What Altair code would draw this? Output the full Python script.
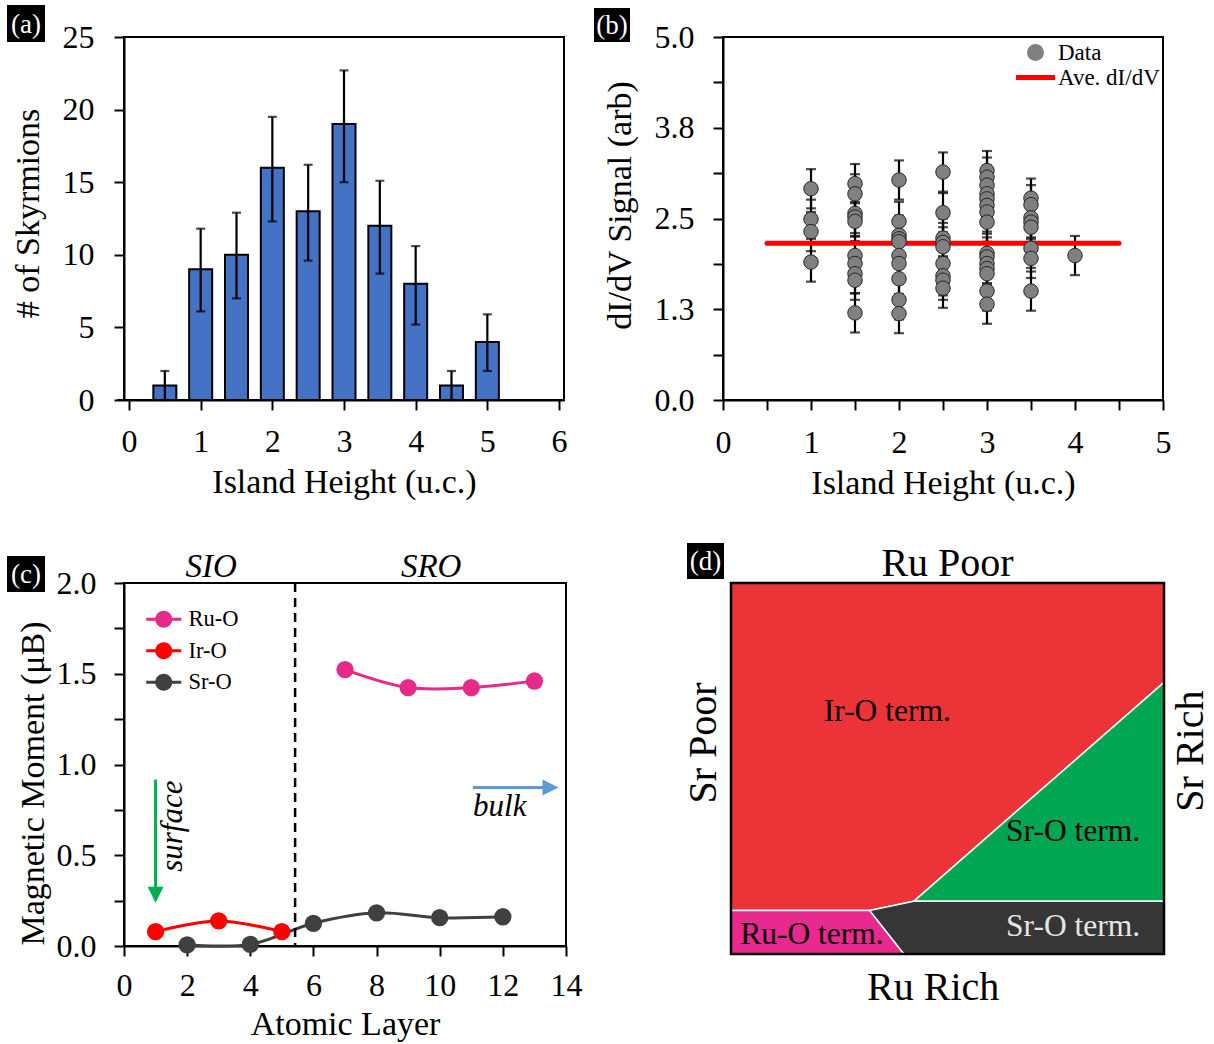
import altair as alt
import pandas as pd

FONT = "Liberation Serif"

# ---------------- (a) histogram ----------------
a_height = [0, 0.5, 1, 1.5, 2, 2.5, 3, 3.5, 4, 4.5, 5, 5.5]
a_count = [0, 1, 9, 10, 16, 13, 19, 12, 8, 1, 4, 0]
a_err_low = [None, 0.0, 6.1, 7.0, 12.3, 9.6, 15.0, 8.7, 5.2, 0.0, 2.0, None]
a_err_high = [None, 2.0, 11.8, 12.9, 19.5, 16.2, 22.7, 15.1, 10.6, 2.0, 5.9, None]

# ---------------- (b) dI/dV scatter ----------------
b_heights = [1.0, 1.5, 2.0, 2.5, 3.0, 3.5, 4.0]
b_h1_0 = [2.91, 2.49, 2.32, 1.90]
b_h1_5 = [2.98, 2.84, 2.57, 2.52, 2.46, 1.99, 1.88, 1.74, 1.65, 1.20]
b_h2_0 = [3.03, 2.46, 2.27, 2.22, 2.18, 1.99, 1.88, 1.67, 1.38, 1.19]
b_h2_5 = [3.14, 2.58, 2.23, 2.17, 2.11, 1.88, 1.71, 1.65, 1.54]
b_h3_0 = [3.16, 3.07, 2.96, 2.84, 2.77, 2.68, 2.59, 2.45, 2.02, 1.97, 1.88, 1.81, 1.74, 1.50, 1.32]
b_h3_5 = [2.78, 2.69, 2.51, 2.45, 2.38, 2.09, 1.95, 1.50]
b_h4_0 = [1.99]
b_err = 0.27
b_avg = 2.16
b_avg_from = 0.5
b_avg_to = 4.5
b_series = ["Data", "Ave. dI/dV"]

# ---------------- (c) magnetic moments ----------------
c_ruo_layer = [7, 9, 11, 13]
c_ruo_moment = [1.523, 1.424, 1.424, 1.46]
c_iro_layer = [1, 3, 5]
c_iro_moment = [0.079, 0.138, 0.079]
c_sro_layer = [2, 4, 6, 8, 10, 12]
c_sro_moment = [0.006, 0.009, 0.125, 0.183, 0.156, 0.161]
c_series = ["Ru-O", "Ir-O", "Sr-O"]
c_colors = ["#E7298A", "#FF0000", "#404040"]
c_interface = 5.42
c_region_names = ["SIO", "SRO"]
c_region_x = [2.76, 9.73]
c_region_y = [2.0, 2.0]
c_surface_x = [1.0, 1.0]
c_surface_y = [0.917, 0.32]
c_surface_head = [1.0, 0.283]
c_surface_label = [1.55, 0.66]
c_bulk_x = [11.05, 13.3]
c_bulk_y = [0.873, 0.873]
c_bulk_head = [13.51, 0.873]
c_bulk_label = [11.9, 0.767]

# ---------------- (d) termination diagram (fractions of the box) ----------------
d_iro_x = [0, 1, 1, 0.422, 0.32, 0, 0]
d_iro_y = [1, 1, 0.732, 0.142, 0.117, 0.117, 1]
d_sro_up_x = [0.422, 1, 1, 0.422]
d_sro_up_y = [0.142, 0.732, 0.142, 0.142]
d_sro_low_x = [0.32, 0.422, 1, 1, 0.399, 0.32]
d_sro_low_y = [0.117, 0.142, 0.142, 0, 0, 0.117]
d_ruo_x = [0, 0.32, 0.399, 0, 0]
d_ruo_y = [0.117, 0.117, 0, 0, 0.117]
d_label_text = ["Ir-O term.", "Sr-O term.", "Ru-O term.", "Sr-O term."]
d_label_x = [0.361, 0.79, 0.187, 0.79]
d_label_y = [0.651, 0.328, 0.05, 0.072]
d_label_kind = ["dark", "dark", "dark", "light"]

COL_BAR = "#4472C4"
TICK_FS = 32
TITLE_FS = 34


def panel_label(txt, x0, x1, y0, y1):
    df = pd.DataFrame({"t": [txt]})
    box = alt.Chart(df).mark_rect(color="black").encode(
        x=alt.value(x0), x2=alt.value(x1), y=alt.value(y0), y2=alt.value(y1)
    )
    text = alt.Chart(df).mark_text(
        color="white", font=FONT, fontSize=27, baseline="middle", align="center"
    ).encode(x=alt.value((x0 + x1) / 2), y=alt.value((y0 + y1) / 2 + 1), text="t:N")
    return [box, text]


# ================= panel (a) =================
a_df = pd.DataFrame({"h": a_height, "n": a_count, "lo": a_err_low, "hi": a_err_high})
xa = alt.X(
    "h:Q",
    scale=alt.Scale(domain=[0, 6], nice=False),
    axis=alt.Axis(
        values=[i * 0.5 for i in range(13)],
        labelExpr="datum.value % 1 == 0 ? format(datum.value, 'd') : ''",
        title="Island Height (u.c.)",
        labelPadding=16,
        titlePadding=8,
    ),
)
ya = alt.Y(
    "n:Q",
    scale=alt.Scale(domain=[0, 25], nice=False),
    axis=alt.Axis(
        values=[i * 2.5 for i in range(11)],
        labelExpr="datum.value % 5 == 0 ? format(datum.value, 'd') : ''",
        title="# of Skyrmions",
        labelPadding=20,
        titlePadding=17,
        titleY=176,
    ),
)
a_bars = alt.Chart(a_df).mark_bar(size=23, fill=COL_BAR, stroke="black", strokeWidth=2).encode(x=xa, y=ya)
a_err_df = a_df.dropna()
a_rule = alt.Chart(a_err_df).mark_rule(color="black", strokeWidth=2.2).encode(x="h:Q", y="lo:Q", y2="hi:Q")
a_cap_hi = alt.Chart(a_err_df).mark_tick(orient="horizontal", size=9, thickness=2.2, color="black").encode(x="h:Q", y="hi:Q")
a_cap_lo = alt.Chart(a_err_df).mark_tick(orient="horizontal", size=9, thickness=2.2, color="black").encode(x="h:Q", y="lo:Q")
panel_a = alt.layer(a_bars, a_rule, a_cap_hi, a_cap_lo, *panel_label("(a)", -117, -79, -32, 5)).properties(width=440, height=363)

# ================= panel (b) =================
b_cols = [b_h1_0, b_h1_5, b_h2_0, b_h2_5, b_h3_0, b_h3_5, b_h4_0]
rows = []
for h, vals in zip(b_heights, b_cols):
    for v in vals:
        rows.append({"h": h, "v": v, "lo": v - b_err, "hi": v + b_err, "series": b_series[0]})
b_df = pd.DataFrame(rows)
xb = alt.X(
    "h:Q",
    scale=alt.Scale(domain=[0, 5], nice=False),
    axis=alt.Axis(
        values=[i * 0.5 for i in range(11)],
        labelExpr="datum.value % 1 == 0 ? format(datum.value, 'd') : ''",
        title="Island Height (u.c.)",
        labelPadding=17,
        titlePadding=8,
    ),
)
b_yaxis = alt.Axis(
    values=[i * 0.625 for i in range(9)],
    labelExpr="datum.value % 1.25 == 0 ? format(datum.value, '.1f') : ''",
    title="dI/dV Signal  (arb)",
    labelPadding=19,
    titlePadding=17,
    titleY=168,
)
b_rule = alt.Chart(b_df).mark_rule(color="black", strokeWidth=2.2).encode(
    x=xb, y=alt.Y("lo:Q", scale=alt.Scale(domain=[0, 5], nice=False), axis=b_yaxis), y2="hi:Q"
)
b_cap_hi = alt.Chart(b_df).mark_tick(orient="horizontal", size=10, thickness=2.2, color="black").encode(x="h:Q", y="hi:Q")
b_cap_lo = alt.Chart(b_df).mark_tick(orient="horizontal", size=10, thickness=2.2, color="black").encode(x="h:Q", y="lo:Q")
b_avg_df = pd.DataFrame({"x0": [b_avg_from], "x1": [b_avg_to], "avg": [b_avg]})
b_avg_line = alt.Chart(b_avg_df).mark_rule(color="#FF0000", strokeWidth=5, strokeCap="round").encode(
    x="x0:Q", x2="x1:Q", y="avg:Q"
)
b_leg = alt.Legend(
    title=None, orient="none", legendX=301, legendY=4, symbolSize=289, symbolStrokeWidth=0,
    labelOffset=11, rowPadding=1, labelFontSize=23, labelFont=FONT, padding=0,
)
b_points = alt.Chart(b_df).mark_point(filled=True, size=210, opacity=1, stroke="#262626", strokeWidth=1).encode(
    x="h:Q",
    y="v:Q",
    fill=alt.Fill("series:N", scale=alt.Scale(domain=b_series, range=["#808080", "#FF0000"]), legend=b_leg),
    shape=alt.Shape(
        "series:N",
        scale=alt.Scale(domain=b_series, range=["circle", "M-2.3,-0.29H2.3V0.29H-2.3Z"]),
        legend=b_leg,
    ),
)
panel_b = alt.layer(b_rule, b_cap_hi, b_cap_lo, b_avg_line, b_points, *panel_label("(b)", -129, -93, -29, 5)).properties(
    width=440, height=363
)

# ================= panel (c) =================
c_df = pd.concat(
    [
        pd.DataFrame({"layer": c_ruo_layer, "m": c_ruo_moment, "series": c_series[0]}),
        pd.DataFrame({"layer": c_iro_layer, "m": c_iro_moment, "series": c_series[1]}),
        pd.DataFrame({"layer": c_sro_layer, "m": c_sro_moment, "series": c_series[2]}),
    ]
)
xc = alt.X(
    "layer:Q",
    scale=alt.Scale(domain=[0, 14], nice=False),
    axis=alt.Axis(
        values=list(range(15)),
        labelExpr="datum.value % 2 == 0 ? format(datum.value, 'd') : ''",
        title="Atomic Layer",
        labelPadding=14,
        titlePadding=6,
    ),
)
yc = alt.Y(
    "m:Q",
    scale=alt.Scale(domain=[0, 2], nice=False),
    axis=alt.Axis(
        values=[i * 0.25 for i in range(9)],
        labelExpr="datum.value % 0.5 == 0 ? format(datum.value, '.1f') : ''",
        title="Magnetic Moment (μB)",
        labelPadding=18,
        titlePadding=6,
        titleY=200,
    ),
)
c_scale = alt.Scale(domain=c_series, range=c_colors)
c_line_layers = []
for i, (name, col) in enumerate(zip(c_series, c_colors)):
    enc = dict(x=xc, y=yc) if i == 0 else dict(x="layer:Q", y="m:Q")
    c_line_layers.append(
        alt.Chart(c_df)
        .transform_filter(alt.datum.series == name)
        .mark_line(interpolate="catmull-rom", strokeWidth=3, color=col)
        .encode(**enc)
    )
c_leg_path = "M-2.06,-0.18H2.06V0.18H-2.06Z M1,0A1,1,0,1,1,-1,0A1,1,0,1,1,1,0Z"
c_points = alt.Chart(c_df).mark_point(filled=True, size=300, opacity=1).encode(
    x="layer:Q",
    y="m:Q",
    fill=alt.Fill(
        "series:N",
        scale=c_scale,
        legend=alt.Legend(
            title=None, orient="none", legendX=28.5, legendY=25, symbolType=c_leg_path, symbolSize=289,
            symbolStrokeWidth=0, labelOffset=13.5, rowPadding=8.5, labelFontSize=22.5, labelFont=FONT, padding=0,
        ),
    ),
)
c_sep = alt.Chart(pd.DataFrame({"x": [c_interface]})).mark_rule(
    color="black", strokeWidth=2.5, strokeDash=[9, 6]
).encode(x="x:Q")
c_regions = alt.Chart(pd.DataFrame({"t": c_region_names, "x": c_region_x, "y": c_region_y})).mark_text(
    font=FONT, fontSize=33, fontStyle="italic", baseline="alphabetic", dy=-6, color="black"
).encode(x="x:Q", y="y:Q", text="t:N")
c_surf_df = pd.DataFrame({"x": [c_surface_x[0]], "y": [c_surface_y[0]], "y2": [c_surface_y[1]]})
c_surf_shaft = alt.Chart(c_surf_df).mark_rule(color="#00B050", strokeWidth=3).encode(x="x:Q", y="y:Q", y2="y2:Q")
c_surf_head = alt.Chart(pd.DataFrame({"x": [c_surface_head[0]], "y": [c_surface_head[1]]})).mark_point(
    shape="M-1,-1L1,-1L0,1Z", size=256, filled=True, color="#00B050", opacity=1
).encode(x="x:Q", y="y:Q")
c_surf_text = alt.Chart(pd.DataFrame({"t": ["surface"], "x": [c_surface_label[0]], "y": [c_surface_label[1]]})).mark_text(
    font=FONT, fontSize=31, fontStyle="italic", angle=270, baseline="middle", align="center", color="black"
).encode(x="x:Q", y="y:Q", text="t:N")
c_bulk_df = pd.DataFrame({"x": [c_bulk_x[0]], "x2": [c_bulk_x[1]], "y": [c_bulk_y[0]]})
c_bulk_shaft = alt.Chart(c_bulk_df).mark_rule(color="#5B9BD5", strokeWidth=3).encode(x="x:Q", x2="x2:Q", y="y:Q")
c_bulk_head = alt.Chart(pd.DataFrame({"x": [c_bulk_head[0]], "y": [c_bulk_head[1]]})).mark_point(
    shape="M-1,-1L1,0L-1,1Z", size=256, filled=True, color="#5B9BD5", opacity=1
).encode(x="x:Q", y="y:Q")
c_bulk_text = alt.Chart(pd.DataFrame({"t": ["bulk"], "x": [c_bulk_label[0]], "y": [c_bulk_label[1]]})).mark_text(
    font=FONT, fontSize=31, fontStyle="italic", baseline="middle", align="center", color="black"
).encode(x="x:Q", y="y:Q", text="t:N")
panel_c = alt.layer(
    *c_line_layers, c_points, c_sep, c_regions, c_surf_shaft, c_surf_head, c_surf_text,
    c_bulk_shaft, c_bulk_head, c_bulk_text, *panel_label("(c)", -117, -79, -27, 9)
).properties(width=442, height=363)

# ================= panel (d) =================
xd = alt.X("x:Q", scale=alt.Scale(domain=[0, 1], nice=False), axis=None)
yd = alt.Y("y:Q", scale=alt.Scale(domain=[0, 1], nice=False), axis=None)


def region(xs, ys, fill):
    df = pd.DataFrame({"x": xs, "y": ys, "o": list(range(len(xs)))})
    return alt.Chart(df).mark_line(fill=fill, stroke="white", strokeWidth=1.5, strokeJoin="miter").encode(
        x=xd, y=yd, order="o:Q"
    )


d_iro = region(d_iro_x, d_iro_y, "#EB3338")
d_sro_up = region(d_sro_up_x, d_sro_up_y, "#00A651")
d_sro_low = region(d_sro_low_x, d_sro_low_y, "#363636")
d_ruo = region(d_ruo_x, d_ruo_y, "#E8298E")
d_frame = alt.Chart(pd.DataFrame({"a": [0]})).mark_rect(fill=None, stroke="black", strokeWidth=2.5).encode(
    x=alt.XDatum(0), x2=alt.X2Datum(1), y=alt.YDatum(0), y2=alt.Y2Datum(1)
)
d_lab_df = pd.DataFrame({"t": d_label_text, "x": d_label_x, "y": d_label_y, "k": d_label_kind})
d_labels = alt.Chart(d_lab_df).mark_text(font=FONT, fontSize=31.5, baseline="middle", align="center").encode(
    x="x:Q", y="y:Q", text="t:N",
    color=alt.Color("k:N", scale=alt.Scale(domain=["dark", "light"], range=["black", "#E6E6E6"]), legend=None),
)
d_top = alt.Chart(pd.DataFrame({"t": ["Ru Poor"], "x": [0.5], "y": [1.0]})).mark_text(
    font=FONT, fontSize=40, baseline="alphabetic", align="center", dy=-7, color="black"
).encode(x="x:Q", y="y:Q", text="t:N")
d_bottom = alt.Chart(pd.DataFrame({"t": ["Ru Rich"], "x": [0.467], "y": [0.0]})).mark_text(
    font=FONT, fontSize=40, baseline="alphabetic", align="center", dy=46, color="black"
).encode(x="x:Q", y="y:Q", text="t:N")
d_left = alt.Chart(pd.DataFrame({"t": ["Sr Poor"], "x": [0.0], "y": [0.569]})).mark_text(
    font=FONT, fontSize=40, baseline="alphabetic", align="center", angle=270, dy=-15, color="black"
).encode(x="x:Q", y="y:Q", text="t:N")
d_right = alt.Chart(pd.DataFrame({"t": ["Sr Rich"], "x": [1.0], "y": [0.547]})).mark_text(
    font=FONT, fontSize=40, baseline="alphabetic", align="center", angle=270, dy=39, color="black"
).encode(x="x:Q", y="y:Q", text="t:N")
panel_d = alt.layer(
    d_iro, d_sro_up, d_sro_low, d_ruo, d_frame, d_labels, d_top, d_bottom, d_left, d_right,
    *panel_label("(d)", -44, -7, -40, -4)
).properties(width=433, height=371)

IND = dict(fill="independent", shape="independent", stroke="independent", color="independent")
row1 = alt.hconcat(panel_a, panel_b, spacing=159, bounds="flush").resolve_scale(**IND).resolve_legend(**IND)
row2 = alt.hconcat(panel_c, panel_d, spacing=165, bounds="flush").resolve_scale(**IND).resolve_legend(**IND)
chart = (
    alt.vconcat(row1, row2, spacing=41)
    .resolve_scale(**IND)
    .resolve_legend(**IND)
    .properties(padding={"left": 6, "top": 4, "right": 0, "bottom": 0}, background="white")
    .configure(font=FONT)
    .configure_view(stroke="black", strokeWidth=2)
    .configure_axis(
        labelFont=FONT, labelFontSize=TICK_FS, labelColor="black", titleFont=FONT, titleFontSize=TITLE_FS,
        titleFontWeight="normal", titleColor="black", domainColor="black", domainWidth=2,
        tickColor="black", tickWidth=2, tickSize=10, grid=False, labelFlush=False, labelOverlap=False,
    )
    .configure_legend(labelFont=FONT, labelColor="black")
)
chart.save("out.html", embed_options={"renderer": "svg", "actions": False})
